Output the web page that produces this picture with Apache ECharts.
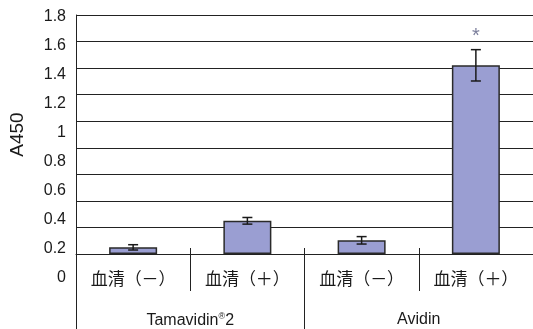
<!DOCTYPE html>
<html><head><meta charset="utf-8">
<script src="https://cdn.jsdelivr.net/npm/echarts@6/dist/echarts.min.js"></script>
<style>html,body{margin:0;padding:0;background:#fff}#c{width:533px;height:329px}</style>
</head><body><div id="c"></div>
<script>
var categories = ['血清（－）', '血清（＋）', '血清（－）', '血清（＋）'];
var groups = ['Tamavidin®2', 'Avidin'];
var values = [0.05, 0.25, 0.103, 1.421];
var errors = [0.02, 0.025, 0.028, 0.118];
var marks = ['', '', '', '*'];
var yTicks = [0, 0.2, 0.4, 0.6, 0.8, 1, 1.2, 1.4, 1.6, 1.8];

var chart = echarts.init(document.getElementById('c'), null, {renderer: 'canvas'});
var font = 'Liberation Sans, Arial, sans-serif';
var cjk = '"Noto Sans CJK JP", "Noto Sans CJK SC", sans-serif';
var yMax = yTicks[yTicks.length - 1];
var yStep = yTicks[1] - yTicks[0];

chart.setOption({
  animation: false,
  backgroundColor: '#fff',
  grid: [
    {left: 74, right: -2, top: 15, bottom: 75},
    {left: 74, right: -2, top: 17, bottom: 51}
  ],
  xAxis: [
    {type: 'category', gridIndex: 0, data: categories, position: 'bottom',
     axisLine: {show: true, lineStyle: {color: '#222', width: 1}},
     axisTick: {show: true, interval: 0, length: 37, lineStyle: {color: '#222', width: 1}},
     axisLabel: {interval: 0, fontSize: 17, fontFamily: cjk, color: '#1a1a1a', margin: 16}},
    {type: 'category', gridIndex: 0, data: groups, position: 'bottom', offset: 37,
     axisLine: {show: false},
     axisTick: {show: true, interval: 0, length: 40, lineStyle: {color: '#222', width: 1}},
     axisLabel: {interval: 0, fontSize: 16, fontFamily: font, color: '#1a1a1a', margin: 21,
       formatter: function (v) { return v.replace('®', '{s|®}'); },
       rich: {s: {fontSize: 9, verticalAlign: 'top', padding: [0, 0, 8, 0], fontFamily: font, color: '#1a1a1a'}}}},
    {type: 'category', gridIndex: 1, data: categories, show: false},
    {type: 'category', gridIndex: 0, data: categories, position: 'bottom',
     axisLine: {show: false}, axisLabel: {show: false},
     axisTick: {show: true, inside: true, interval: 0, length: 6, lineStyle: {color: '#222', width: 1}}}
  ],
  yAxis: [
    {type: 'value', gridIndex: 0, min: 0, max: yMax, interval: yStep,
     axisLine: {show: true, lineStyle: {color: '#222', width: 1}},
     axisTick: {show: false}, axisLabel: {show: false},
     splitLine: {show: true, lineStyle: {color: '#222', width: 1}},
     name: 'A450', nameLocation: 'middle', nameGap: 49, nameRotate: 90,
     nameTextStyle: {fontSize: 19, fontFamily: font, color: '#1a1a1a'}},
    {type: 'value', gridIndex: 1, min: 0, max: yMax, interval: yStep,
     axisLine: {show: false}, axisTick: {show: false}, splitLine: {show: false},
     axisLabel: {fontSize: 16, fontFamily: font, color: '#1a1a1a', margin: 8}}
  ],
  series: [
    {type: 'bar', xAxisIndex: 0, yAxisIndex: 0, data: values, barWidth: 48, z: 2,
     itemStyle: {color: '#9a9ed2', borderColor: '#2a2a2a', borderWidth: 1.5}},
    {type: 'custom', xAxisIndex: 0, yAxisIndex: 0, z: 5,
     data: values.map(function (v, i) { return [i, v, errors[i]]; }),
     renderItem: function (params, api) {
       var i = api.value(0), v = api.value(1), e = api.value(2);
       var hi = api.coord([i, v + e]), lo = api.coord([i, v - e]);
       var w = 5;
       var children = [
         {type: 'line', shape: {x1: hi[0], y1: hi[1], x2: lo[0], y2: lo[1]}, style: {stroke: '#1a1a1a', lineWidth: 1.5}},
         {type: 'line', shape: {x1: hi[0] - w, y1: hi[1], x2: hi[0] + w, y2: hi[1]}, style: {stroke: '#1a1a1a', lineWidth: 1.5}},
         {type: 'line', shape: {x1: lo[0] - w, y1: lo[1], x2: lo[0] + w, y2: lo[1]}, style: {stroke: '#1a1a1a', lineWidth: 1.5}}
       ];
       if (marks[i]) {
         children.push({type: 'text', x: hi[0], y: hi[1] - 3,
           style: {text: marks[i], fontSize: 20, fontFamily: font, fill: '#7c7f9c', align: 'center', verticalAlign: 'bottom'}});
       }
       return {type: 'group', children: children};
     }}
  ]
});
</script></body></html>
